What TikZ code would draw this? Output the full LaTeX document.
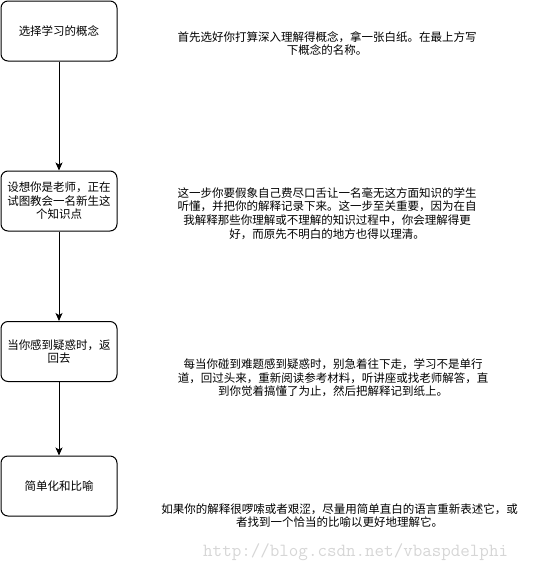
\documentclass[tikz,border=0pt]{standalone}
\usepackage{fontspec}
\newfontfamily\cjk{Noto Sans CJK SC}
\usetikzlibrary{arrows.meta}
\begin{document}
\begin{tikzpicture}[x=1pt,y=-1pt,
  stepbox/.style={draw=black,line width=1pt,rounded corners=7pt,minimum width=116pt,minimum height=60pt,inner sep=2pt,align=center,font=\cjk\fontsize{11.5}{13.5}\selectfont},
  desc/.style={align=center,inner sep=0pt,font=\cjk\fontsize{11.5}{13.7}\selectfont},
  flow/.style={line width=1pt,-{Stealth[length=8pt,width=7pt,inset=2pt]}}]
\useasboundingbox (0,0) rectangle (543,573);
\node[stepbox] (b1) at (59,31) {选择学习的概念};
\node[stepbox] (b2) at (59,201) {设想你是老师，正在\\试图教会一名新生这\\个知识点};
\node[stepbox] (b3) at (59,351.5) {当你感到疑惑时，返\\回去};
\node[stepbox] (b4) at (59,486) {简单化和比喻};
\draw[flow] (b1) -- (b2);
\draw[flow] (b2) -- (b3);
\draw[flow] (b3) -- (b4);
\node[desc] (t1) at (327,43.5) {首先选好你打算深入理解得概念，拿一张白纸。在最上方写\\下概念的名称。};
\node[desc] (t2) at (327,213.5) {这一步你要假象自己费尽口舌让一名毫无这方面知识的学生\\听懂，并把你的解释记录下来。这一步至关重要，因为在自\\我解释那些你理解或不理解的知识过程中，你会理解得更\\好，而原先不明白的地方也得以理清。};
\node[desc] (t3) at (333,378) {每当你碰到难题感到疑惑时，别急着往下走，学习不是单行\\道，回过头来，重新阅读参考材料，听讲座或找老师解答，直\\到你觉着搞懂了为止，然后把解释记到纸上。};
\node[desc] (t4) at (339.5,515.5) {如果你的解释很啰嗦或者艰涩，尽量用简单直白的语言重新表述它，或\\者找到一个恰当的比喻以更好地理解它。};
\node[anchor=west,inner sep=0pt,text=black!16,font=\ttfamily\fontsize{18.5}{19}\selectfont] (wm) at (203,552) {http://blog.csdn.net/vbaspdelphi};
\end{tikzpicture}
\end{document}
